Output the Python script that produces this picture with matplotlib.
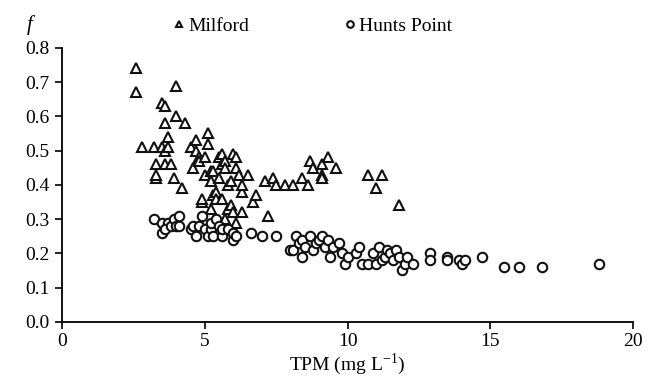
import matplotlib
matplotlib.use('Agg')
import matplotlib.pyplot as plt
import numpy as np

plt.rcParams['font.family'] = ['Liberation Serif', 'DejaVu Serif']
plt.rcParams['mathtext.fontset'] = 'stix'

# Milford (triangles)
milford_tpm = [2.6, 2.6, 2.8, 3.2, 3.3, 3.3, 3.3, 3.5, 3.5, 3.6, 3.6, 3.6, 3.7, 3.7, 3.6,
               3.8, 3.9, 4.0, 4.0, 4.2, 4.3, 4.5, 4.6, 4.7, 4.7, 4.8, 4.8, 4.9, 4.9, 5.0,
               5.0, 5.1, 5.1, 5.2, 5.2, 5.2, 5.3, 5.3, 5.4, 5.4, 5.5, 5.5, 5.6, 5.6, 5.6,
               5.7, 5.7, 5.7, 5.8, 5.8, 5.9, 5.9, 6.0, 6.0, 6.1, 6.1, 6.1, 6.2, 6.3, 6.3,
               6.3, 6.5, 6.7, 6.8, 7.1, 7.2, 7.4, 7.5, 7.8, 8.1, 8.4, 8.6, 8.7, 8.8, 9.1,
               9.1, 9.1, 9.3, 9.6, 10.7, 11.0, 11.2, 11.8]
milford_f = [0.74, 0.67, 0.51, 0.51, 0.42, 0.43, 0.46, 0.51, 0.64, 0.63, 0.58, 0.50, 0.51, 0.54, 0.46,
             0.46, 0.42, 0.60, 0.69, 0.39, 0.58, 0.51, 0.45, 0.53, 0.50, 0.48, 0.47, 0.35, 0.36, 0.43,
             0.48, 0.55, 0.52, 0.44, 0.41, 0.33, 0.37, 0.44, 0.38, 0.36, 0.42, 0.48, 0.49, 0.46, 0.36,
             0.47, 0.45, 0.30, 0.40, 0.33, 0.34, 0.41, 0.49, 0.32, 0.48, 0.45, 0.29, 0.43, 0.38, 0.40,
             0.32, 0.43, 0.35, 0.37, 0.41, 0.31, 0.42, 0.40, 0.40, 0.40, 0.42, 0.40, 0.47, 0.45, 0.46,
             0.43, 0.42, 0.48, 0.45, 0.43, 0.39, 0.43, 0.34]

# Hunts Point (circles)
hunts_tpm = [3.2, 3.5, 3.5, 3.7, 3.6, 3.8, 3.9, 4.0, 4.1, 4.1, 4.5, 4.6, 4.7, 4.8, 4.9,
             5.0, 5.1, 5.2, 5.2, 5.3, 5.4, 5.5, 5.6, 5.6, 5.8, 6.0, 6.0, 6.1, 6.6, 7.0,
             7.5, 8.0, 8.1, 8.2, 8.3, 8.4, 8.4, 8.5, 8.7, 8.8, 8.9, 9.0, 9.1, 9.2, 9.3,
             9.4, 9.5, 9.7, 9.8, 9.9, 10.0, 10.3, 10.4, 10.5, 10.7, 10.9, 11.0, 11.1, 11.2, 11.3,
             11.4, 11.5, 11.6, 11.7, 11.8, 11.9, 12.0, 12.1, 12.3, 12.9, 12.9, 13.5, 13.5, 13.9, 14.0,
             14.1, 14.7, 15.5, 16.0, 16.8, 18.8]
hunts_f = [0.30, 0.29, 0.26, 0.29, 0.27, 0.28, 0.30, 0.28, 0.31, 0.28, 0.27, 0.28, 0.25, 0.28, 0.31,
           0.27, 0.25, 0.27, 0.29, 0.25, 0.30, 0.28, 0.25, 0.27, 0.27, 0.24, 0.26, 0.25, 0.26, 0.25,
           0.25, 0.21, 0.21, 0.25, 0.23, 0.24, 0.19, 0.22, 0.25, 0.21, 0.23, 0.24, 0.25, 0.22, 0.24,
           0.19, 0.22, 0.23, 0.20, 0.17, 0.19, 0.20, 0.22, 0.17, 0.17, 0.20, 0.17, 0.22, 0.18, 0.19,
           0.21, 0.20, 0.18, 0.21, 0.19, 0.15, 0.17, 0.19, 0.17, 0.20, 0.18, 0.19, 0.18, 0.18, 0.17,
           0.18, 0.19, 0.16, 0.16, 0.16, 0.17]

fig = plt.figure(figsize=(6.62, 3.8), dpi=100)
ax = fig.add_axes([0.094, 0.153, 0.862, 0.721])

ax.plot(milford_tpm, milford_f, linestyle='none', marker='^', markersize=7,
        markerfacecolor='white', markeredgecolor='#111111', markeredgewidth=1.5,
        label='Milford')
ax.plot(hunts_tpm, hunts_f, linestyle='none', marker='o', markersize=6.8,
        markerfacecolor='white', markeredgecolor='#111111', markeredgewidth=1.5,
        label='Hunts Point')

ax.set_xlim(0, 20)
ax.set_ylim(0, 0.8)
ax.set_xticks([0, 5, 10, 15, 20])
ax.set_yticks(np.arange(0, 0.81, 0.1))
ax.set_yticklabels(['%.1f' % v for v in np.arange(0, 0.81, 0.1)])
ax.spines['top'].set_visible(False)
ax.spines['right'].set_visible(False)
ax.spines['left'].set_linewidth(1.3)
ax.spines['bottom'].set_linewidth(1.3)
ax.tick_params(axis='both', labelsize=14, width=1.2, length=5, direction='out')
ax.tick_params(axis='x', pad=3)
ax.tick_params(axis='y', pad=4)

ax.set_xlabel('TPM (mg L$^{\\mathregular{-1}}$)', fontsize=14, labelpad=1)
fig.text(0.045, 0.935, 'f', fontsize=15, style='italic', ha='center', va='center')

leg = ax.legend(loc='lower center', bbox_to_anchor=(0.44, 1.02), ncol=2, frameon=False,
                fontsize=14, handlelength=0.5, handletextpad=0.25, columnspacing=4.9,
                markerscale=0.7, borderaxespad=0)

fig.savefig('out.png', dpi=100)
